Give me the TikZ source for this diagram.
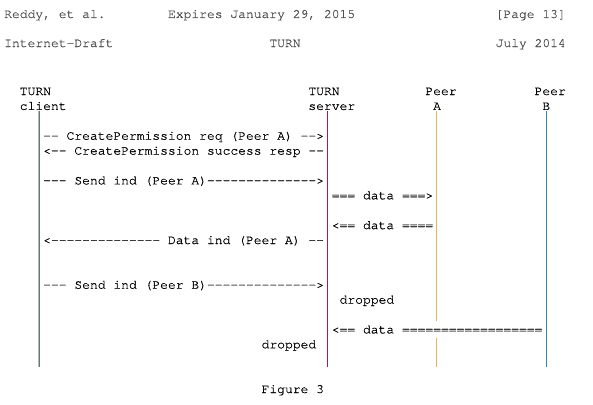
\documentclass[tikz,border=0pt]{standalone}
\usepackage{fontspec}
\newfontfamily\asciifont{TeX Gyre Cursor}[FakeBold=0.7]

\definecolor{barorange}{RGB}{242,176,90}
\definecolor{barblue}{RGB}{44,132,204}
\definecolor{barred}{RGB}{150,36,68}
\definecolor{hdrgray}{RGB}{80,80,80}

\tikzset{
  ascii/.style={font=\asciifont\fontsize{13}{15}\selectfont, anchor=base west, inner sep=0pt},
  pagehdr/.style={ascii, text=hdrgray},
  lifeline/.style={line width=1pt},
}

\begin{document}
\begin{tikzpicture}[x=7.8pt,y=-14.9pt]
  \useasboundingbox (-4pt,20.5pt) rectangle ++(593pt,-404pt);

  % page header
  \node[pagehdr] (author)  at (0,-0.17)  {Reddy, et al.};
  \node[pagehdr] (expires) at (21,-0.17) {Expires January 29, 2015};
  \node[pagehdr] (page)    at (63,-0.17) {[Page 13]};
  \node[pagehdr] (draft)   at (0,1.78)   {Internet-Draft};
  \node[pagehdr] (title)   at (34,1.78)  {TURN};
  \node[pagehdr] (month)   at (63,1.78)  {July 2014};

  % participants
  \node[ascii] (clientHead) at (2,5)  {TURN};
  \node[ascii] (clientName) at (2,6)  {client};
  \node[ascii] (serverHead) at (39,5) {TURN};
  \node[ascii] (serverName) at (39,6) {server};
  \node[ascii] (peerAHead)  at (54,5) {Peer};
  \node[ascii] (peerAName)  at (55,6) {A};
  \node[ascii] (peerBHead)  at (68,5) {Peer};
  \node[ascii] (peerBName)  at (69,6) {B};

  % lifelines
  \coordinate (clientTop) at (4.5,6.1);
  \coordinate (clientEnd) at (4.5,23.27);
  \coordinate (serverTop) at (41.5,6.1);
  \coordinate (serverEnd) at (41.5,23.27);
  \coordinate (peerATop)  at (55.5,6.1);
  \coordinate (peerAGap)  at (55.5,20.17);
  \coordinate (peerAOn)   at (55.5,21.31);
  \coordinate (peerAEnd)  at (55.5,23.27);
  \coordinate (peerBTop)  at (69.5,6.1);
  \coordinate (peerBEnd)  at (69.5,23.27);

  \draw[lifeline,barorange] ([xshift=-0.7pt]clientTop) -- ([xshift=-0.7pt]clientEnd);
  \draw[lifeline,barblue,line width=0.8pt] ([xshift=0.5pt]clientTop) -- ([xshift=0.5pt]clientEnd);
  \draw[lifeline,barred]    (serverTop) -- (serverEnd);
  \draw[lifeline,barorange] (peerATop) -- (peerAGap);
  \draw[lifeline,barorange] (peerAOn) -- (peerAEnd);
  \draw[lifeline,barblue]   (peerBTop) -- (peerBEnd);

  % messages between client and server
  \node[ascii] (permReq)  at (5,8)  {-- CreatePermission req (Peer A) -->};
  \node[ascii] (permResp) at (5,9)  {<-- CreatePermission success resp --};
  \node[ascii] (sendA)    at (5,11) {--- Send ind (Peer A)-------------->};
  \node[ascii] (dataInd)  at (5,15) {<-------------- Data ind (Peer A) --};
  \node[ascii] (sendB)    at (5,18) {--- Send ind (Peer B)-------------->};
  \node[ascii] (dropC)    at (33,22) {dropped};

  % data between server and peers
  \node[ascii] (dataToA)   at (42,12) {=== data ===>};
  \node[ascii] (dataFromA) at (42,14) {<== data ====};
  \node[ascii] (dropS)     at (43,19) {dropped};
  \node[ascii] (dataFromB) at (42,21) {<== data ==================};

  \node[ascii] (caption) at (33,25) {Figure 3};
\end{tikzpicture}
\end{document}
